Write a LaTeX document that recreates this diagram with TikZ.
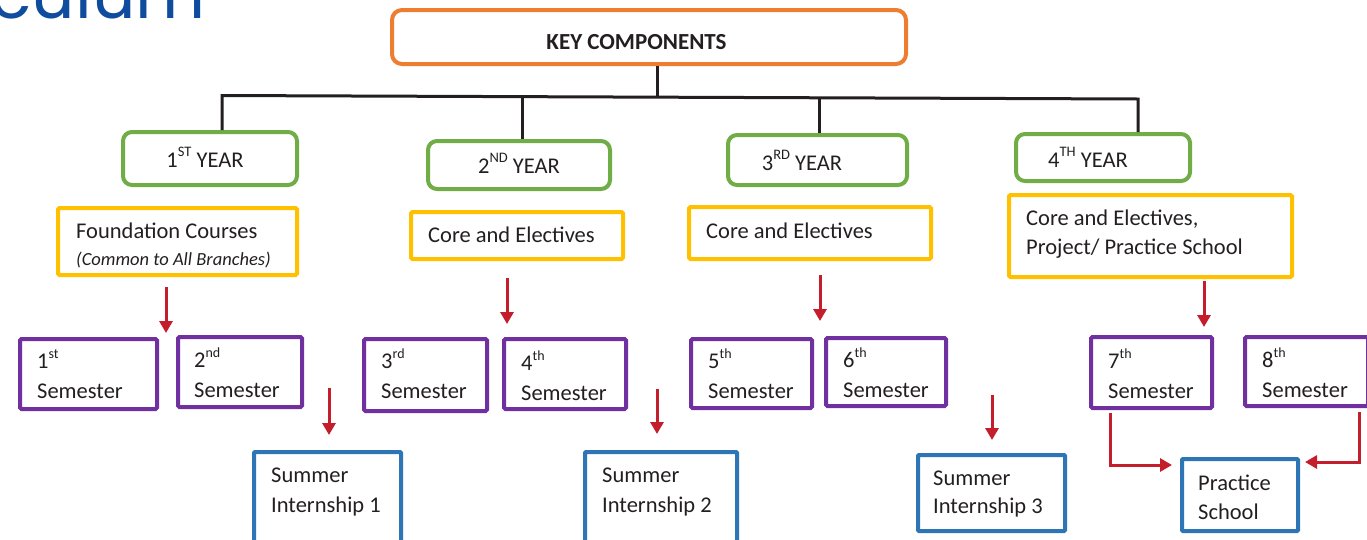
\documentclass[tikz,border=0pt]{standalone}
\usepackage{fontspec}
\setmainfont{Carlito}
\newfontfamily\titlefont{Poppins}
\usetikzlibrary{arrows.meta}
\definecolor{orangeC}{HTML}{ED7D31}
\definecolor{greenC}{HTML}{70AD47}
\definecolor{yellowC}{HTML}{FFC000}
\definecolor{purpleC}{HTML}{7030A0}
\definecolor{blueC}{HTML}{2E75B6}
\definecolor{redC}{RGB}{196,30,45}
\definecolor{titleC}{RGB}{16,76,158}
\definecolor{inkC}{RGB}{35,31,32}
\newcommand\mysup[1]{\raisebox{10pt}{\fontsize{14}{14}\selectfont #1}}
\newcommand\mycapsup[1]{\raisebox{10.5pt}{\fontsize{14.5}{14.5}\selectfont #1}}
\tikzset{
  box/.style={draw, line width=4pt, inner sep=0pt},
  keybox/.style={box, draw=orangeC, rounded corners=10pt},
  yearbox/.style={box, draw=greenC, rounded corners=9pt},
  topicbox/.style={box, draw=yellowC, rounded corners=1.5pt},
  sembox/.style={box, draw=purpleC, rounded corners=1.5pt},
  intbox/.style={box, draw=blueC, rounded corners=1pt},
  txt/.style={anchor=base west, inner sep=0pt, align=left, text=inkC,
    font=\fontsize{22.5}{30}\selectfont},
  ctxt/.style={txt, anchor=base},
  link/.style={draw=inkC, line width=3pt},
  redarrow/.style={draw=redC, line width=3pt,
    -{Triangle[length=12pt,width=13pt]}},
}
\begin{document}
\begin{tikzpicture}[x=1pt,y=-1pt]
\useasboundingbox (0,0) rectangle (1367,539);
% title fragment
\node[anchor=base east, inner sep=0pt, text=titleC, font=\titlefont\fontsize{68}{68}\selectfont] (title) at (206,18) {Curriculum};
% key components
\node[keybox, minimum width=514pt, minimum height=54pt] (key) at (649,37) {};
\node[ctxt, font=\bfseries\fontsize{23}{28}\selectfont] (keyt) at (636.5,49) {KEY COMPONENTS};
% years
\node[yearbox, minimum width=174pt, minimum height=53pt] (y1) at (210,158.5) {};
\node[yearbox, minimum width=182pt, minimum height=48pt] (y2) at (519,165) {};
\node[yearbox, minimum width=179pt, minimum height=50pt] (y3) at (817.5,160) {};
\node[yearbox, minimum width=174pt, minimum height=47pt] (y4) at (1103,157.5) {};
\node[ctxt] (y1t) at (205,167) {1\mycapsup{ST} YEAR};
\node[ctxt] (y2t) at (519,173) {2\mycapsup{ND} YEAR};
\node[ctxt] (y3t) at (802,170) {3\mycapsup{RD} YEAR};
\node[ctxt] (y4t) at (1088,167) {4\mycapsup{TH} YEAR};
% bus
\coordinate (b1) at (222,95.5);
\coordinate (b2) at (522,96.5);
\coordinate (bk) at (657,97);
\coordinate (b3) at (819,98);
\coordinate (b4) at (1138,99);
\draw[link] (b1 |- y1.north) -- ([yshift=-2pt]b1) -- (b1) -- (b4) -- ([yshift=-1pt]b4) -- (b4 |- y4.north);
\draw[link] (bk) -- (bk |- key.south);
\draw[link] (b2) -- (b2 |- y2.north);
\draw[link] (b3) -- (b3 |- y3.north);
% topic boxes
\node[topicbox, minimum width=239pt, minimum height=67pt] (f1) at (177.5,241.5) {};
\node[topicbox, minimum width=212pt, minimum height=47pt] (f2) at (517,235.5) {};
\node[topicbox, minimum width=242pt, minimum height=52pt] (f3) at (810,233) {};
\node[topicbox, minimum width=283pt, minimum height=82pt] (f4) at (1150.5,236) {};
\node[txt] (f1t) at (76,238) {Foundation Courses};
\node[txt, font=\itshape\fontsize{18.5}{24}\selectfont] (f1s) at (76,265) {(Common to All Branches)};
\node[txt] (f2t) at (428,242) {Core and Electives};
\node[txt] (f3t) at (706,238) {Core and Electives};
\node[txt, font=\fontsize{22.5}{29}\selectfont] (f4t) at (1026,254) {Core and Electives,\\Project/ Practice School};
% semesters
\node[sembox, minimum width=137pt, minimum height=70pt] (s1) at (88.5,374) {};
\node[sembox, minimum width=124pt, minimum height=70pt] (s2) at (240,372) {};
\node[sembox, minimum width=123pt, minimum height=72pt] (s3) at (425.5,375) {};
\node[sembox, minimum width=122pt, minimum height=70pt] (s4) at (565,374) {};
\node[sembox, minimum width=121pt, minimum height=69pt] (s5) at (751.5,373.5) {};
\node[sembox, minimum width=120pt, minimum height=68pt] (s6) at (886,372) {};
\node[sembox, minimum width=121pt, minimum height=71pt] (s7) at (1151.5,372.5) {};
\node[sembox, minimum width=123pt, minimum height=69pt] (s8) at (1306.5,371.5) {};
\node[txt] (s1t) at (37,398) {1\mysup{st}\\Semester};
\node[txt] (s2t) at (194,397) {2\mysup{nd}\\Semester};
\node[txt] (s3t) at (381,398) {3\mysup{rd}\\Semester};
\node[txt] (s4t) at (521,400) {4\mysup{th}\\Semester};
\node[txt] (s5t) at (708,398) {5\mysup{th}\\Semester};
\node[txt] (s6t) at (843,397) {6\mysup{th}\\Semester};
\node[txt] (s7t) at (1108,398) {7\mysup{th}\\Semester};
\node[txt] (s8t) at (1262,397) {8\mysup{th}\\Semester};
% internships
\node[intbox, minimum width=147pt, minimum height=106pt] (i1) at (327.5,505) {};
\node[intbox, minimum width=152pt, minimum height=106pt] (i2) at (661,505) {};
\node[intbox, minimum width=147pt, minimum height=76pt] (i3) at (991.5,493) {};
\node[intbox, minimum width=116pt, minimum height=72pt] (ps) at (1240,495) {};
\node[txt] (i1t) at (271,512) {Summer\\Internship 1};
\node[txt] (i2t) at (602,512) {Summer\\Internship 2};
\node[txt, font=\fontsize{22.5}{28}\selectfont] (i3t) at (933,513) {Summer\\Internship 3};
\node[txt, font=\fontsize{22.5}{29}\selectfont] (pst) at (1198,519) {Practice\\School};
% red arrows
\coordinate (a1s) at (166,287); \coordinate (a1e) at (166,333);
\coordinate (a2s) at (329,388); \coordinate (a2e) at (329,435);
\coordinate (a3s) at (507,278); \coordinate (a3e) at (507,324);
\coordinate (a4s) at (657,389); \coordinate (a4e) at (657,434);
\coordinate (a5s) at (820,275); \coordinate (a5e) at (820,321);
\coordinate (a6s) at (992,395); \coordinate (a6e) at (992,440);
\coordinate (a7s) at (1204,281); \coordinate (a7e) at (1204,327);
\coordinate (e7s) at (1110,413); \coordinate (e7e) at (1172,465);
\coordinate (e8s) at (1359,412); \coordinate (e8e) at (1305,462);
\draw[redarrow] (a1s) -- (a1e);
\draw[redarrow] (a2s) -- (a2e);
\draw[redarrow] (a3s) -- (a3e);
\draw[redarrow] (a4s) -- (a4e);
\draw[redarrow] (a5s) -- (a5e);
\draw[redarrow] (a6s) -- (a6e);
\draw[redarrow] (a7s) -- (a7e);
\draw[redarrow] (e7s) |- (e7e);
\draw[redarrow] (e8s) |- (e8e);
\end{tikzpicture}
\end{document}
